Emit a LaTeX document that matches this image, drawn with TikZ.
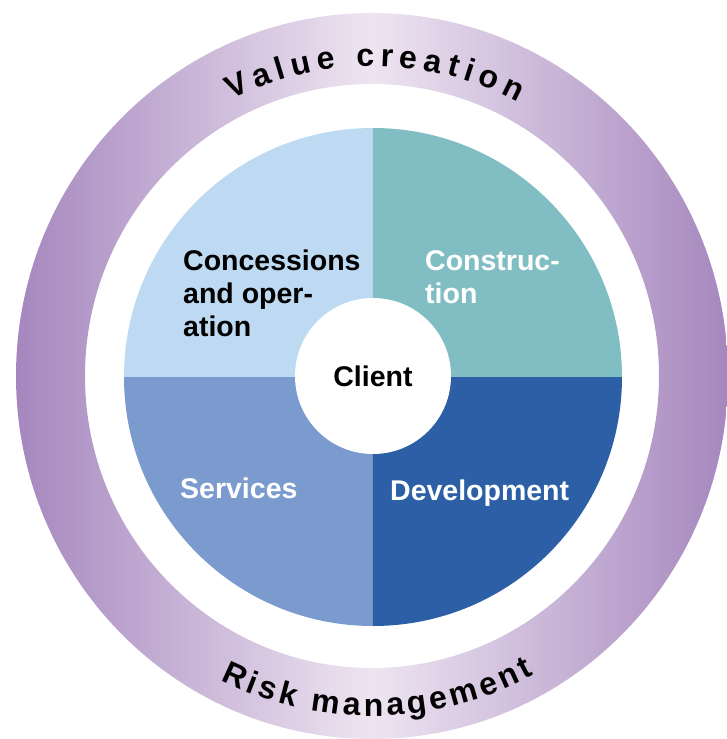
\documentclass[tikz,border=0pt]{standalone}
\usepackage{fontspec}
\setmainfont{Liberation Sans}
\usetikzlibrary{decorations.text}
\definecolor{ringdark}{HTML}{A587BE}
\definecolor{ringlight}{HTML}{EEE5F1}
\definecolor{concblue}{HTML}{BDDAF2}
\definecolor{constteal}{HTML}{80BEC4}
\definecolor{servblue}{HTML}{7B9BCE}
\definecolor{devblue}{HTML}{2C5FA6}
\newcommand{\ringfont}{\fontsize{32}{32}\selectfont\bfseries}
\begin{document}
\begin{tikzpicture}[x=1pt, y=1pt,
    quadtext/.style={font=\fontsize{28.5}{33}\selectfont\bfseries, inner sep=0pt, align=left},
    ringtext/.style={decorate, decoration={text along path, text align={fit to path}}}]
  \useasboundingbox (-373,-362) rectangle (353,377);
  % outer ring
  \shade[left color=ringdark, right color=ringdark, middle color=ringlight, even odd rule]
    (-1,1) ellipse [x radius=356, y radius=363] (-1,1) ellipse [x radius=287, y radius=292];%
  % four quarters
  \fill[concblue] (0,0) -- (0,249) arc[start angle=90, end angle=180, radius=249] -- cycle;%
  \fill[constteal] (0,0) -- (249,0) arc[start angle=0, end angle=90, radius=249] -- cycle;%
  \fill[servblue] (0,0) -- (-249,0) arc[start angle=180, end angle=270, radius=249] -- cycle;%
  \fill[devblue] (0,0) -- (0,-249) arc[start angle=270, end angle=360, radius=249] -- cycle;%
  \node[circle, fill=white, minimum size=156pt, inner sep=0pt,
    font=\fontsize{28.5}{33}\selectfont\bfseries] (client) at (0,1) {Client};
  \node[quadtext, anchor=north west] (conc) at (-190,127) {Concessions\\and oper-\\ation};
  \node[quadtext, anchor=north west, text=white] (constr) at (52,127) {Construc-\\tion};
  \node[quadtext, anchor=base west, text=white] (serv) at (-193,-121) {Services};
  \node[quadtext, anchor=base west, text=white] (dev) at (17,-123) {Development};
  % texts along the ring
  \path[ringtext, decoration={text={|\ringfont|Value creation}}]
    (-1,1) ++(117:310) arc[start angle=117, end angle=62, radius=310];%
  \path[ringtext, decoration={text={|\ringfont|Risk management}}]
    (-1,1) ++(243.5:340) arc[start angle=243.5, end angle=298.5, radius=340];%
\end{tikzpicture}
\end{document}
